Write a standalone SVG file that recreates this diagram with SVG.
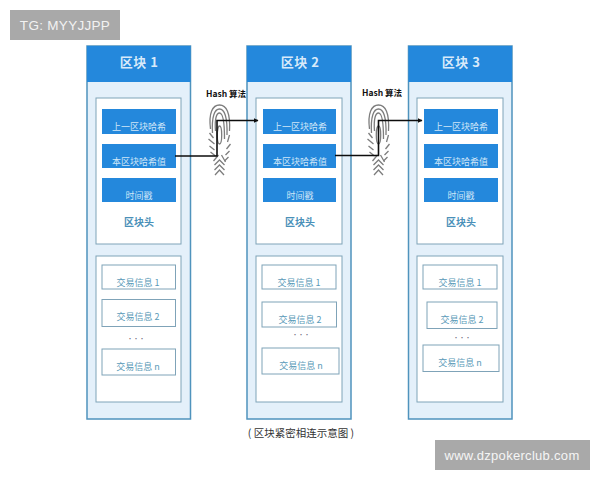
<svg xmlns="http://www.w3.org/2000/svg" width="600" height="480" viewBox="0 0 600 480">
<style>
text{font-family:"Noto Sans CJK SC","Noto Sans",sans-serif;text-anchor:middle}
.outer{fill:#e4f0fa;stroke:#4f93bd;stroke-width:1.5}
.head{fill:#2488dc}
.inner{fill:#fff;stroke:#7fa3b8;stroke-width:1}
.blue{fill:#2488dc}
.tx{fill:#fff;stroke:#7fa3b8;stroke-width:1}
.title{font-size:13px;font-weight:700;fill:#d8eafa;letter-spacing:.5px}
.bt{font-size:9px;fill:#cfe6f8}
.hd{font-size:10px;font-weight:700;fill:#4a90b8}
.tt{font-size:9px;fill:#5a9ab8}
.dots{font-size:6px;fill:#667}
.hash{font-size:8.500px;font-weight:700;fill:#111}
.fp{fill:none;stroke:#7d7d7d;stroke-width:1.300}
.conn{fill:none;stroke:#0d0d0d;stroke-width:1.600}
</style>
<defs>
<marker id="arr" markerWidth="6" markerHeight="6" refX="4.500" refY="2.500" orient="auto" markerUnits="userSpaceOnUse"><path d="M0 0L5 2.500L0 5z" fill="#0d0d0d"/></marker>
<g id="fingerprint" class="fp">
<path d="M-9 24C-11 8-7 0 0 0C7 0 11 8 10 26"/>
<path d="M-7 28C-8 12-5 4 0 4C5 4 8 12 7.500 30"/>
<path d="M-4 26C-5 14-3 8 0 8C3 8 5 14 5 34"/>
<ellipse cx="0" cy="30" rx="2.200" ry="9"/>
<path d="M-10 28L-6 33M-11 34L-5 39M-10 41L-5 45M-9 47L-4 51M10 30L8 37M11 39L7 44M10 46L6 50M9 52L5 56"/>
<path d="M-6 56L-1 50M6 57L2 50"/>
<path d="M-5 60L0 55L5 60M-5 65L0 60L5 65M-4.500 70L0 65L4.500 70"/>
</g>
</defs>
<rect x="0" y="0" width="600" height="480" fill="#fff"/>
<g id="watermark-top"><rect x="10" y="10" width="110" height="30" fill="#a9a9a9"/><text x="65" y="30" style="font-family:'Liberation Sans',sans-serif;font-size:13.500px;fill:#f2f2f2;letter-spacing:.3px">TG: MYYJJPP</text></g>
<g id="block1">
<rect class="outer" x="87" y="46" width="103.500" height="373"/><rect class="head" x="87" y="46" width="103.500" height="36"/>
<text class="title" x="139" y="67">区块 1</text>
<rect class="inner" x="96" y="98" width="85" height="146"/>
<rect class="blue" x="102" y="109" width="74" height="25"/><text class="bt" x="139" y="130">上一区块哈希</text>
<rect class="blue" x="102" y="144" width="74" height="24"/><text class="bt" x="139" y="165">本区块哈希值</text>
<rect class="blue" x="102" y="178" width="74" height="24"/><text class="bt" x="139" y="199">时间戳</text>
<text class="hd" x="139" y="226">区块头</text>
<rect class="inner" x="96" y="256" width="85" height="146"/>
<rect class="tx" x="102" y="265" width="73.500" height="24"/><text class="tt" x="138" y="286">交易信息 1</text>
<rect class="tx" x="102" y="299.500" width="73.500" height="27"/><text class="tt" x="138" y="320">交易信息 2</text>
<text class="dots" x="136" y="341">•••</text>
<rect class="tx" x="102" y="349" width="73.500" height="26"/><text class="tt" x="138" y="370">交易信息 n</text>
</g>
<g id="block2">
<rect class="outer" x="247" y="46" width="104" height="373"/><rect class="head" x="247" y="46" width="104" height="36"/>
<text class="title" x="300" y="67">区块 2</text>
<rect class="inner" x="256" y="98" width="86" height="146"/>
<rect class="blue" x="263" y="109" width="73" height="25"/><text class="bt" x="300" y="130">上一区块哈希</text>
<rect class="blue" x="263" y="144" width="73" height="24"/><text class="bt" x="300" y="165">本区块哈希值</text>
<rect class="blue" x="263" y="178" width="73" height="24"/><text class="bt" x="300" y="199">时间戳</text>
<text class="hd" x="300" y="226">区块头</text>
<rect class="inner" x="256" y="256" width="86" height="146"/>
<rect class="tx" x="262" y="265" width="74" height="24"/><text class="tt" x="299" y="286">交易信息 1</text>
<rect class="tx" x="262" y="302" width="74.500" height="25"/><text class="tt" x="300" y="323">交易信息 2</text>
<text class="dots" x="301" y="337">•••</text>
<rect class="tx" x="262" y="348" width="77" height="26"/><text class="tt" x="301" y="369">交易信息 n</text>
</g>
<g id="block3">
<rect class="outer" x="408.500" y="46" width="103.500" height="373"/><rect class="head" x="408.500" y="46" width="103.500" height="36"/>
<text class="title" x="461" y="67">区块 3</text>
<rect class="inner" x="417" y="98" width="86" height="146"/>
<rect class="blue" x="424" y="109" width="74" height="25"/><text class="bt" x="461" y="130">上一区块哈希</text>
<rect class="blue" x="424" y="144" width="74" height="24"/><text class="bt" x="461" y="165">本区块哈希值</text>
<rect class="blue" x="424" y="178" width="74" height="24"/><text class="bt" x="461" y="199">时间戳</text>
<text class="hd" x="461" y="226">区块头</text>
<rect class="inner" x="417" y="256" width="86" height="146"/>
<rect class="tx" x="423" y="265" width="74" height="24"/><text class="tt" x="460" y="286">交易信息 1</text>
<rect class="tx" x="427" y="302" width="70" height="26.500"/><text class="tt" x="462" y="323">交易信息 2</text>
<text class="dots" x="462" y="340">•••</text>
<rect class="tx" x="423" y="345" width="76" height="26.500"/><text class="tt" x="460" y="366">交易信息 n</text>
</g>
<g id="hash1"><text class="hash" x="226" y="97">Hash 算法</text><use href="#fingerprint" x="219.500" y="105"/></g>
<g id="hash2"><text class="hash" x="382" y="96">Hash 算法</text><use href="#fingerprint" x="378.500" y="105"/></g>
<g id="connectors">
<path class="conn" marker-end="url(#arr)" d="M175 156H217V120.500H258"/>
<path class="conn" marker-end="url(#arr)" d="M335 155.500H378.500V120.500H422"/>
</g>
<text id="caption" x="301" y="437" style="font-size:10.500px;fill:#333">( 区块紧密相连示意图 )</text>
<g id="watermark-bottom"><rect x="435" y="440" width="155" height="30" fill="#a9a9a9"/><text x="512" y="460" style="font-family:'Liberation Sans',sans-serif;font-size:13px;fill:#f5f5f5;letter-spacing:.3px">www.dzpokerclub.com</text></g>
</svg>
